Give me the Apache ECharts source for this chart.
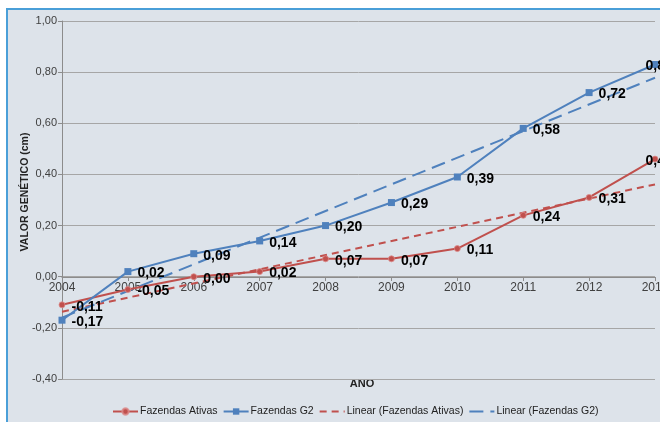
<!DOCTYPE html>
<html>
<head>
<meta charset="utf-8">
<script src="https://cdn.jsdelivr.net/npm/echarts@6/dist/echarts.min.js"></script>
<style>
html,body{margin:0;padding:0;background:#fff;}
#c{width:660px;height:422px;}
</style>
</head>
<body>
<div id="c"></div>
<script>
var categories = ['2004','2005','2006','2007','2008','2009','2010','2011','2012','2013'];
var ativas = [-0.11, -0.05, 0.00, 0.02, 0.07, 0.07, 0.11, 0.24, 0.31, 0.46];
var g2 = [-0.17, 0.02, 0.09, 0.14, 0.20, 0.29, 0.39, 0.58, 0.72, 0.83];
// trend line end points (2004 and 2013)
var trendAtivas = [-0.137, null, null, null, null, null, null, null, null, 0.361];
var trendG2 = [-0.160, null, null, null, null, null, null, null, null, 0.778];
var yTicks = {min: -0.4, max: 1.0, interval: 0.2};

var RED = '#c0504d', BLUE = '#4f81bd';
var FONT = 'Liberation Sans, Arial, sans-serif';
function fmt(v){ return v.toFixed(2).replace('.', ','); }
function withLabels(arr){
  return arr.map(function(v, i){
    var d = {value: v};
    if (i === arr.length - 1) d.label = {offset: [-19, 2]};
    return d;
  });
}
var dataLabel = {
  show: true, position: 'right', distance: 6, offset: [0, 2],
  color: '#000', fontWeight: 'bold', fontSize: 14, fontFamily: FONT,
  formatter: function(p){ return fmt(p.value); }
};

var chart = echarts.init(document.getElementById('c'), null, {renderer: 'canvas'});
var gridTop = 21, gridBottom = 43, H = 422;
var plotH = H - gridTop - gridBottom;
var zeroShift = -Math.round(plotH * (0 - yTicks.min) / (yTicks.max - yTicks.min));
chart.setOption({
  backgroundColor: '#ffffff',
  animation: false,
  textStyle: {fontFamily: FONT},
  graphic: [
    {type: 'rect', z: -10, shape: {x: 7, y: 9, width: 700, height: 500},
     style: {fill: '#dde3ea', stroke: '#4a9fd8', lineWidth: 2}},
    {type: 'text', x: 25, y: 192, rotation: Math.PI / 2,
     style: {text: 'VALOR GENÉTICO (cm)', fontSize: 10.5, fontWeight: 'bold', fill: '#222',
             textAlign: 'center', textVerticalAlign: 'middle', fontFamily: FONT}},
    {type: 'text', x: 362, y: 384,
     style: {text: 'ANO', fontSize: 11, fontWeight: 'bold', fill: '#222',
             textAlign: 'center', textVerticalAlign: 'middle', fontFamily: FONT}}
  ],
  grid: {left: 62, top: gridTop, right: 5, bottom: gridBottom, containLabel: false, outerBoundsMode: 'none'},
  legend: {
    left: 112, top: 406, padding: 0, itemWidth: 25, itemHeight: 8, itemGap: 5,
    textStyle: {fontSize: 10.5, color: '#222', padding: [0, 0, 0, -3]},
    data: [
      {name: 'Fazendas Ativas'},
      {name: 'Fazendas G2'},
      {name: 'Linear (Fazendas Ativas)', itemStyle: {opacity: 0}},
      {name: 'Linear (Fazendas G2)', itemStyle: {opacity: 0}}
    ]
  },
  xAxis: {
    type: 'category', data: categories, boundaryGap: false, offset: zeroShift,
    axisLine: {onZero: false, lineStyle: {color: '#8c8c8c', width: 1}},
    axisTick: {show: true, length: 4, lineStyle: {color: '#8c8c8c'}},
    axisLabel: {color: '#404040', fontSize: 12, margin: 5},
    splitLine: {show: false}
  },
  yAxis: {
    type: 'value', min: yTicks.min, max: yTicks.max, interval: yTicks.interval,
    axisLine: {show: true, lineStyle: {color: '#8c8c8c'}},
    axisTick: {show: true, length: 4, lineStyle: {color: '#8c8c8c'}},
    axisLabel: {color: '#404040', fontSize: 11, margin: 5, formatter: function(v){ return fmt(v); }},
    splitLine: {show: true, lineStyle: {color: '#a6a6a6', width: 1}}
  },
  series: [
    {name: 'Linear (Fazendas Ativas)', type: 'line', data: trendAtivas, connectNulls: true,
     symbol: 'none', z: 1, lineStyle: {color: RED, width: 2, type: [7, 5]}, itemStyle: {color: RED}},
    {name: 'Linear (Fazendas G2)', type: 'line', data: trendG2, connectNulls: true,
     symbol: 'none', z: 1, lineStyle: {color: BLUE, width: 2, type: [14, 7]}, itemStyle: {color: BLUE}},
    {name: 'Fazendas Ativas', type: 'line', data: withLabels(ativas), symbol: 'circle', symbolSize: 6,
     z: 3, lineStyle: {color: RED, width: 2}, itemStyle: {color: RED, borderColor: 'rgba(220,140,140,0.8)', borderWidth: 1},
     label: dataLabel},
    {name: 'Fazendas G2', type: 'line', data: withLabels(g2), symbol: 'rect', symbolSize: 7,
     z: 3, lineStyle: {color: BLUE, width: 2}, itemStyle: {color: BLUE},
     label: dataLabel}
  ]
});
</script>
</body>
</html>
